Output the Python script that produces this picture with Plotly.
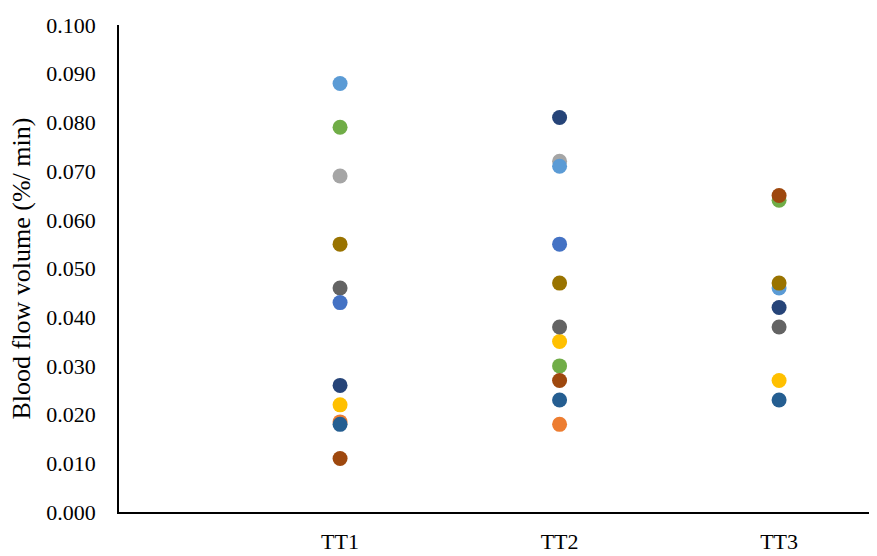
import plotly.graph_objects as go

categories = ["TT1", "TT2", "TT3"]
x_pos = [1, 2, 3]
y_title = "Blood flow volume (%/ min)"

# series values at TT1, TT2, TT3 -- drawn in this order
s_orange = [0.0185, 0.018, None]
s_gray = [0.069, 0.072, None]
s_gold = [0.022, 0.035, 0.027]
s_lightblue = [0.088, 0.071, 0.046]
s_green = [0.079, 0.030, 0.064]
s_darkblue = [0.026, 0.081, 0.042]
s_brown = [0.011, 0.027, 0.065]
s_darkgray = [0.046, 0.038, 0.038]
s_blue = [0.043, 0.055, None]
s_darkgold = [0.055, 0.047, 0.047]
s_steelblue = [0.018, 0.023, 0.023]

series = [
    ("#ED7D31", s_orange),
    ("#A5A5A5", s_gray),
    ("#FFC000", s_gold),
    ("#5B9BD5", s_lightblue),
    ("#70AD47", s_green),
    ("#264478", s_darkblue),
    ("#9E480E", s_brown),
    ("#636363", s_darkgray),
    ("#4472C4", s_blue),
    ("#997300", s_darkgold),
    ("#255E91", s_steelblue),
]

fig = go.Figure()
for color, vals in series:
    fig.add_trace(go.Scatter(
        x=x_pos, y=vals, mode="markers",
        marker=dict(color=color, size=15, line=dict(width=0)),
        showlegend=False,
    ))

font = dict(family="Liberation Serif", size=22, color="#000000")

# page body has an 8px margin, so the figure is sized to fit the 877x556 window
fig.update_layout(
    width=869, height=548,
    margin=dict(l=111, r=0, t=17, b=44),
    paper_bgcolor="white", plot_bgcolor="white",
    font=font,
)
fig.update_xaxes(
    range=[-0.007, 3.446],
    tickvals=x_pos, ticktext=categories,
    showgrid=False, zeroline=False,
    showline=True, linecolor="#000000", linewidth=1.5,
    ticks="", ticklabelstandoff=9, automargin=False,
    tickfont=font,
)
fig.update_yaxes(
    range=[0, 0.1], dtick=0.01, tick0=0, tickformat=".3f",
    showgrid=False, zeroline=False,
    showline=True, linecolor="#000000", linewidth=1.5,
    ticks="", ticklabelstandoff=17, automargin=False,
    tickfont=font,
)
fig.add_annotation(
    text=y_title, textangle=-90, showarrow=False,
    xref="paper", yref="paper", x=-0.128, y=0.5,
    xanchor="center", yanchor="middle",
    font=dict(family="Liberation Serif", size=26, color="#000000"),
)

fig.write_html("out.html")
